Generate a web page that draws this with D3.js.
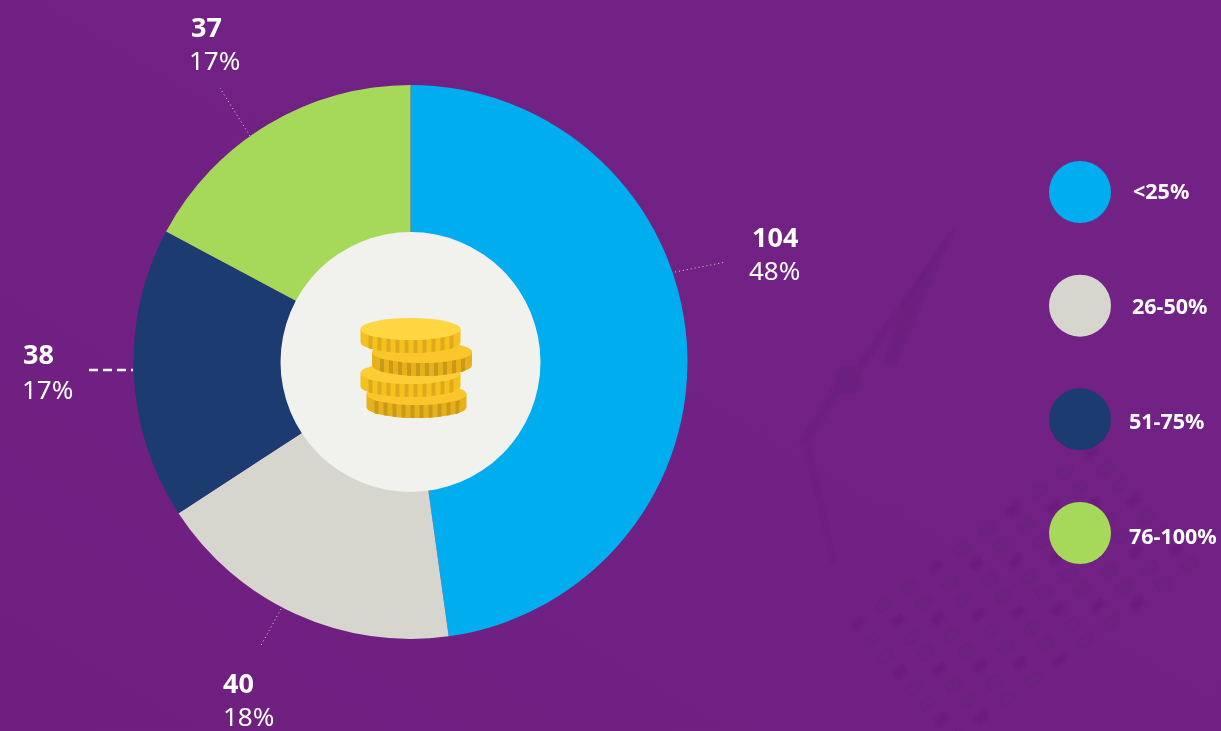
<!DOCTYPE html>
<html>
<head>
<meta charset="utf-8">
<script src="https://cdnjs.cloudflare.com/ajax/libs/d3/7.8.5/d3.min.js"></script>
<style>
    html, body { margin: 0; padding: 0; background: #70217f; overflow: hidden; }
    svg { display: block; }
    text { font-family: "Noto Sans", "Open Sans", sans-serif; fill: #fff; }
    .count { font-size: 27px; font-weight: 700; }
    .share { font-size: 26px; }
    .legendLabel { font-size: 21.5px; font-weight: 700; }
</style>
</head>
<body>
<div id="chart"></div>
<script>
// Values
const categories = ['<25%', '26-50%', '51-75%', '76-100%'];
const counts = [104, 40, 38, 37];
const shares = ['48%', '18%', '17%', '17%'];
// Slice sizes in percent, measured from the slice edges
const sliceShares = [47.8, 18, 17, 17.2];
const colors = ['#00adef', '#d6d6ce', '#1c3b70', '#a6d95a'];

const width = 1221,
    height = 731;

const center = { x: 410.5, y: 362 },
    outerRadius = 277,
    innerRadius = 130;

// Where each label and leader sits, same order as categories
const labelPos = [
    { x: 752, y: 247, sx: 749, sy: 280, line: [675, 272, 726, 262] },
    { x: 223, y: 693, sx: 223, sy: 726, line: [281, 609, 260, 647] },
    { x: 23, y: 364, sx: 22, sy: 399, line: [89, 370, 133, 370], dashed: true },
    { x: 191, y: 37, sx: 189, sy: 70, line: [250, 136, 220, 88] }
];

// Legend label left edges, the original ones are not aligned
const legendTextX = [1133, 1132, 1129, 1129];

// Coin stack in the hole, drawn bottom to top
const coins = [
    { cx: 416.5, cy: 394, top: '#fbc62c', side: '#e8b11c', stripe: '#c99a17' },
    { cx: 410.5, cy: 373, top: '#fdcd36', side: '#f5c11f', stripe: '#dfa91c' },
    { cx: 422, cy: 352, top: '#fbc62c', side: '#e8b11c', stripe: '#c99a17' },
    { cx: 410.5, cy: 329, top: '#ffd742', side: '#f5c11f', stripe: '#dfa91c' }
];

const svg = d3.select('#chart')
    .append('svg')
    .attr('width', width)
    .attr('height', height)
    .attr('viewBox', [0, 0, width, height].join(' '));

const defs = svg.append('defs');

const bgGrad = defs.append('linearGradient')
    .attr('id', 'bg')
    .attr('x1', 0).attr('y1', 1).attr('x2', 1).attr('y2', 0);
bgGrad.append('stop').attr('offset', 0).attr('stop-color', '#6e1f80');
bgGrad.append('stop').attr('offset', 1).attr('stop-color', '#732386');

defs.append('filter')
    .attr('id', 'soft')
    .append('feGaussianBlur')
    .attr('stdDeviation', 1.2);

svg.append('rect')
    .attr('width', width)
    .attr('height', height)
    .attr('fill', 'url(#bg)');

// Faint drawing in the background
const texture = svg.append('g')
    .attr('fill', '#651c78')
    .attr('fill-opacity', 0.35)
    .attr('filter', 'url(#soft)');

texture.append('path')
    .attr('d', 'M954,228 L905,340 L893,368 L886,362 L893,330 L905,298 Z');
texture.append('path')
    .attr('d', 'M952,232 L860,372 L856,368 Z');
texture.append('circle')
    .attr('cx', 848).attr('cy', 380).attr('r', 13);
texture.append('path')
    .attr('d', 'M840,392 L806,446 L800,444 L834,388 Z');
texture.append('path')
    .attr('d', 'M810,448 L835,560 L832,562 L806,450 Z');

// Rows of small marks, lower right
d3.range(0, 8).forEach(row => {
    d3.range(0, 10).forEach(col => {
        texture.append('rect')
            .attr('x', 0).attr('y', 0)
            .attr('width', 13).attr('height', 8)
            .attr('fill-opacity', (row * 2 + col) % 3 === 0 ? 0.5 : 0.2)
            .attr('transform', 'translate(' + (850 + col * 26 + row * 14) + ',' + (625 - col * 19 + row * 16) + ') rotate(-38)');
    });
});

// Donut
const pie = d3.pie().sort(null).value(d => d);
// Slices run a little under the hole so no edge shows around it
const arc = d3.arc().innerRadius(innerRadius - 2).outerRadius(outerRadius);
const color = d3.scaleOrdinal().domain(categories).range(colors);

const donut = svg.append('g')
    .attr('transform', 'translate(' + center.x + ',' + center.y + ')');

donut.selectAll('.slice')
    .data(pie(sliceShares))
    .enter()
    .append('path')
    .attr('class', 'slice')
    .attr('d', arc)
    .attr('fill', (d, i) => color(categories[i]));

donut.append('circle')
    .attr('r', innerRadius)
    .attr('fill', '#f1f1ed');

// Coins
const coinRx = 50,
    coinRy = 11,
    coinThick = 13;

const stripeX = d3.scaleLinear().domain([0, 9]).range([-coinRx + 8, coinRx - 11]);

const coin = svg.selectAll('.coin')
    .data(coins)
    .enter()
    .append('g')
    .attr('class', 'coin')
    .attr('transform', d => 'translate(' + d.cx + ',' + d.cy + ')');

coin.each(function(d, i) {
    const g = d3.select(this);
    const side = 'M' + (-coinRx) + ',0 L' + (-coinRx) + ',' + coinThick +
        ' A' + coinRx + ',' + coinRy + ' 0 0 0 ' + coinRx + ',' + coinThick +
        ' L' + coinRx + ',0 Z';
    defs.append('clipPath')
        .attr('id', 'coinSide' + i)
        .append('path')
        .attr('d', side);
    g.append('path')
        .attr('d', side)
        .attr('fill', d.side);
    g.append('g')
        .attr('clip-path', 'url(#coinSide' + i + ')')
        .selectAll('rect')
        .data(d3.range(0, 10))
        .enter()
        .append('rect')
        .attr('x', s => stripeX(s))
        .attr('y', 0)
        .attr('width', 4)
        .attr('height', coinRy + coinThick + 2)
        .attr('fill', d.stripe);
    g.append('ellipse')
        .attr('rx', coinRx)
        .attr('ry', coinRy)
        .attr('fill', d.top);
});

// Leaders
svg.selectAll('.leader')
    .data(labelPos)
    .enter()
    .append('line')
    .attr('class', 'leader')
    .attr('x1', d => d.line[0])
    .attr('y1', d => d.line[1])
    .attr('x2', d => d.line[2])
    .attr('y2', d => d.line[3])
    .attr('stroke', '#fff')
    .attr('stroke-width', d => d.dashed ? 2.5 : 1)
    .attr('stroke-opacity', d => d.dashed ? 1 : 0.8)
    .attr('stroke-dasharray', d => d.dashed ? '9,5' : '1,3');

// Value labels
svg.selectAll('.count')
    .data(counts)
    .enter()
    .append('text')
    .attr('class', 'count')
    .attr('x', (d, i) => labelPos[i].x)
    .attr('y', (d, i) => labelPos[i].y)
    .text(d => d);

svg.selectAll('.share')
    .data(shares)
    .enter()
    .append('text')
    .attr('class', 'share')
    .attr('x', (d, i) => labelPos[i].sx)
    .attr('y', (d, i) => labelPos[i].sy)
    .text(d => d);

// Legend
const legendY = d3.scalePoint().domain(categories).range([192, 533]);
const legendTextY = d3.scalePoint().domain(categories).range([199, 544]);

const legend = svg.selectAll('.legendItem')
    .data(categories)
    .enter()
    .append('g')
    .attr('class', 'legendItem');

legend.append('circle')
    .attr('cx', 1080)
    .attr('cy', d => legendY(d))
    .attr('r', 31)
    .attr('fill', d => color(d));

legend.append('text')
    .attr('class', 'legendLabel')
    .attr('x', (d, i) => legendTextX[i])
    .attr('y', d => legendTextY(d))
    .text(d => d);
</script>
</body>
</html>
